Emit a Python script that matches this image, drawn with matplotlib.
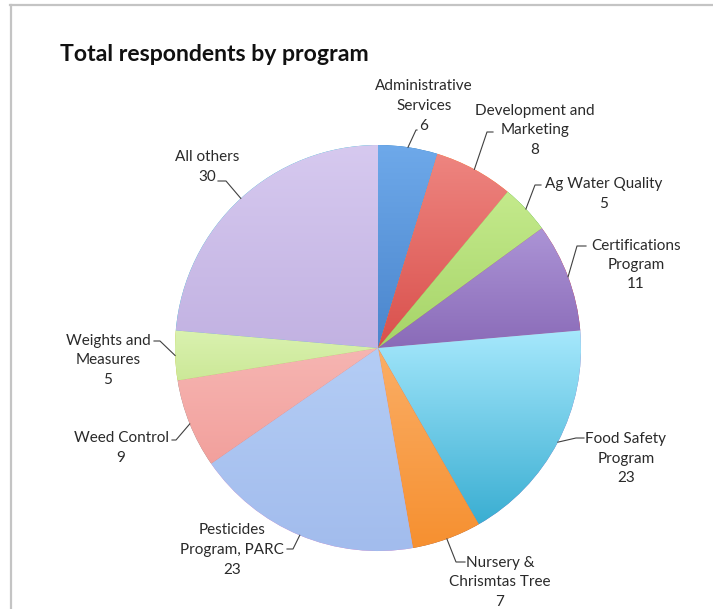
import matplotlib.pyplot as plt
import numpy as np
from matplotlib.colors import LinearSegmentedColormap
from matplotlib.lines import Line2D

plt.rcParams["font.family"] = ["Lato", "DejaVu Sans"]

# Data
programs = [
    "Administrative\nServices",
    "Development and\nMarketing",
    "Ag Water Quality",
    "Certifications\nProgram",
    "Food Safety\nProgram",
    "Nursery &\nChrismtas Tree",
    "Pesticides\nProgram, PARC",
    "Weed Control",
    "Weights and\nMeasures",
    "All others",
]
respondents = [6, 8, 5, 11, 23, 7, 23, 9, 5, 30]

# Slice gradients (top -> bottom), Office 2007 style
top_colors = ["#6ea9ea", "#ee8580", "#c4ea8c", "#ac94d6", "#a6e8fc",
              "#fbae66", "#b4cdf5", "#f6b5b2", "#daf2b0", "#d6c9ef"]
bottom_colors = ["#4a85cc", "#d9504c", "#a6d468", "#8a6bb8", "#3aaed2",
                 "#f69030", "#a2bced", "#f2a09c", "#cce898", "#c2b2e2"]

# Label layout in pixels: text block centre, leader end, horizontal stub
label_centres = [(424, 106), (535, 130), (604, 194), (636, 265), (626, 459),
                 (500, 582), (232, 550), (121, 448), (108, 360), (207, 167)]
leader_ends = [(417, 130), (493, 132), (541, 185), (586, 246), (584, 438),
               (465, 562), (287, 549), (172, 440), (154, 341), (218, 181)]
stubs = [1, 6, 6, 9, 8, 9, -6, -4, -6, -8]

W, H = 713, 609
CX, CY, R = 378, 348, 203  # pie centre and radius in pixels


def px(x, y):
    return (x - CX) / R, (CY - y) / R


fig = plt.figure(figsize=(W / 100, H / 100), dpi=100)
ax = fig.add_axes([0, 0, 1, 1])

wedges, _ = ax.pie(
    respondents,
    startangle=90,
    counterclock=False,
    radius=1,
    center=(0, 0),
    wedgeprops=dict(linewidth=0),
)

grad = np.linspace(0, 1, 256).reshape(-1, 1)
for w, c_top, c_bot in zip(wedges, top_colors, bottom_colors):
    ang = np.radians(np.linspace(w.theta1, w.theta2, 100))
    xs = np.append(np.cos(ang), 0)
    ys = np.append(np.sin(ang), 0)
    cmap = LinearSegmentedColormap.from_list("g", [c_top, c_bot])
    im = ax.imshow(grad, extent=(xs.min(), xs.max(), ys.min(), ys.max()),
                   origin="upper", cmap=cmap, aspect="auto",
                   interpolation="bilinear", zorder=w.get_zorder() + 0.1)
    im.set_clip_path(w)

# Labels with leader lines
for w, name, val, centre, end, stub in zip(wedges, programs, respondents,
                                           label_centres, leader_ends, stubs):
    mid = np.radians((w.theta1 + w.theta2) / 2)
    ex, ey = np.cos(mid), np.sin(mid)
    lx, ly = px(*end)
    kx, ky = px(end[0] - stub, end[1])
    ax.plot([ex, kx, lx], [ey, ky, ly], color="#404040", linewidth=0.8,
            zorder=5)
    tx, ty = px(*centre)
    ax.text(tx, ty, f"{name}\n{val}", ha="center", va="center",
            fontsize=11, color="#2a2a2a", linespacing=1.5, zorder=6)

ax.set_xlim(-CX / R, (W - CX) / R)
ax.set_ylim((CY - H) / R, CY / R)
ax.set_aspect("auto")
ax.axis("off")

# Title
fig.text(60 / W, 1 - 61 / H, "Total respondents by program", fontsize=16.6,
         fontweight="bold", color="#111111", va="baseline", ha="left")

# Chart frame (top and left edges visible)
fig.add_artist(Line2D([10 / W, 1], [1 - 5 / H, 1 - 5 / H], color="#c4c4c4",
                      linewidth=1.6))
fig.add_artist(Line2D([11 / W, 11 / W], [0, 1 - 5 / H], color="#c4c4c4",
                      linewidth=1.6))

fig.savefig("out.png", dpi=100)
